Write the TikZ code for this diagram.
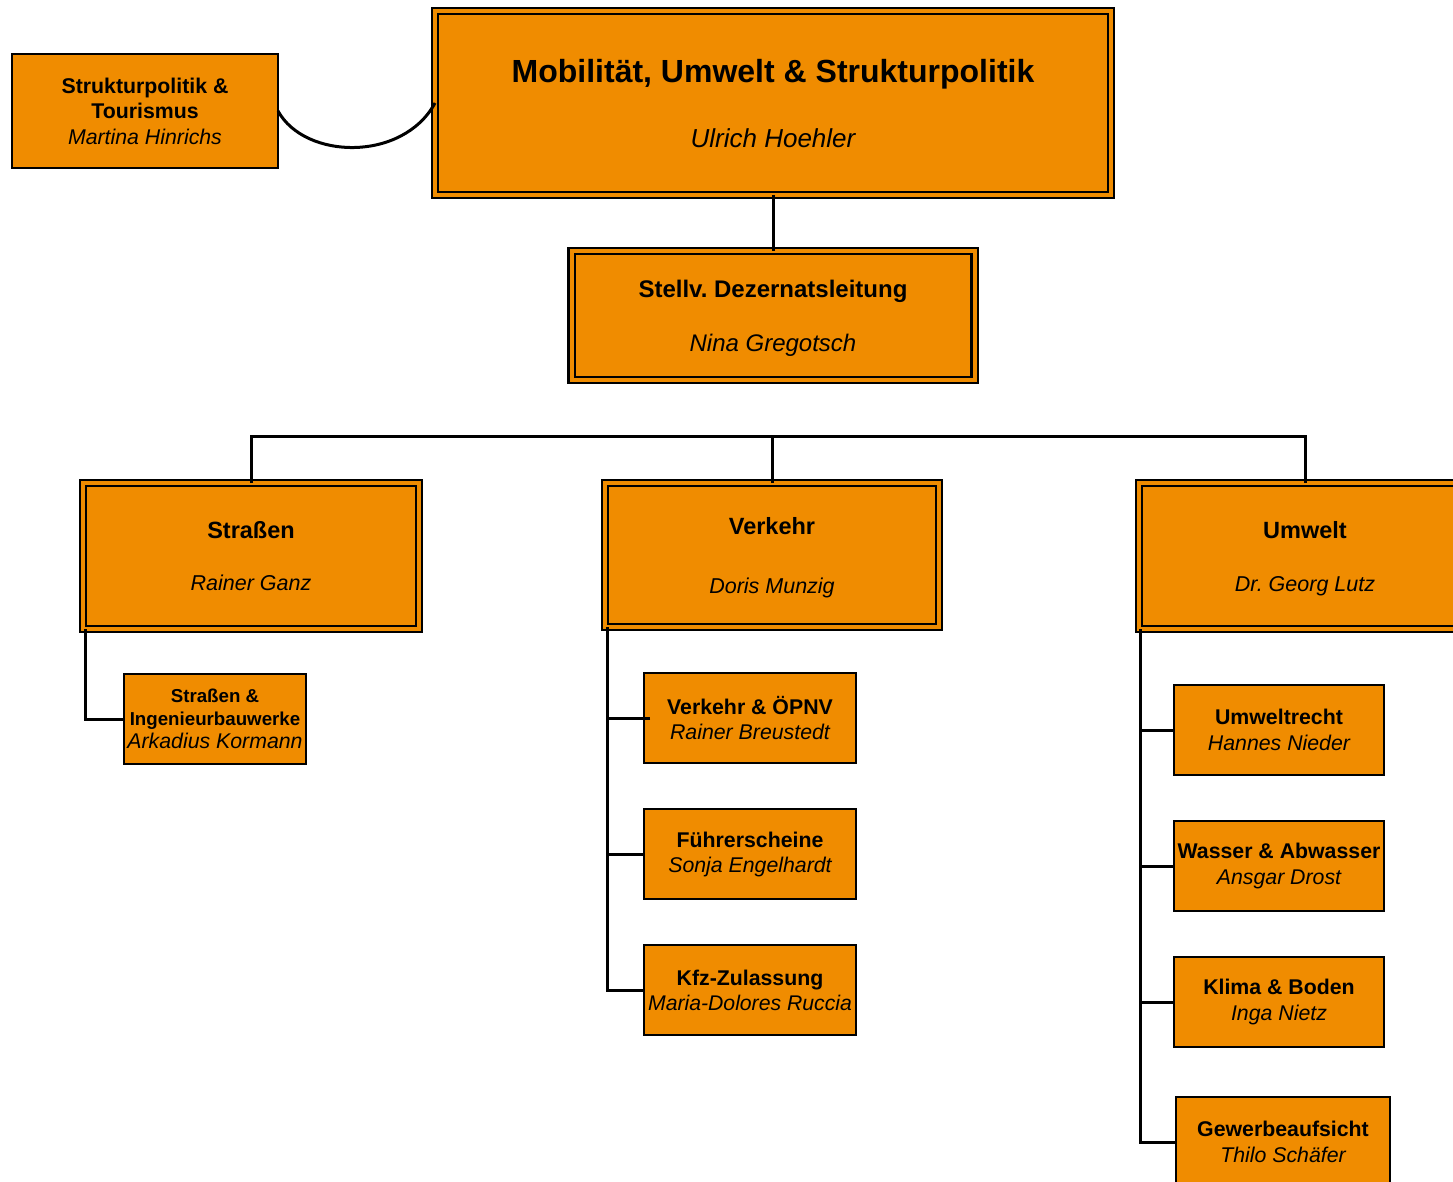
\documentclass[tikz,border=0pt]{standalone}
\usepackage{fontspec}
\setmainfont{Liberation Sans}
\frenchspacing
\definecolor{boxorange}{RGB}{240,140,0}
\newcommand\boxtitle[2]{{\fontsize{#1}{#1}\selectfont\bfseries #2}}
\newcommand\boxname[2]{{\fontsize{#1}{#1}\selectfont\itshape #2}}
\begin{document}
\begin{tikzpicture}[x=1pt,y=-1pt,
  bigbox/.style={draw, line width=2.2pt, double=boxorange, double distance=4pt,
    fill=boxorange, inner sep=0pt, outer sep=0pt, align=center, text depth=0pt},
  smallbox/.style={draw, line width=2.3pt, fill=boxorange, inner sep=0pt,
    outer sep=0pt, align=center, minimum height=90pt},
  conn/.style={line width=3pt}]
\useasboundingbox (0,0) rectangle (1453,1182);
\clip (0,0) rectangle (1453,1182);

% top level
\node[bigbox, minimum width=676pt, minimum height=184pt,
  font=\fontsize{26}{65}\selectfont] (main) at (773,103)
  {\boxtitle{32}{Mobilität, Umwelt \& Strukturpolitik}\\\boxname{26}{Ulrich Hoehler}};
\node[smallbox, minimum width=266pt, minimum height=114pt,
  font=\fontsize{21}{25.5}\selectfont] (strukt) at (145,111)
  {\boxtitle{21.3}{Strukturpolitik \&}\\\boxtitle{21.3}{Tourismus}\\\boxname{21.3}{Martina Hinrichs}};
\node[bigbox, minimum width=403pt, minimum height=129pt,
  font=\fontsize{24}{54}\selectfont] (stellv) at (773,315.5)
  {\boxtitle{24}{Stellv. Dezernatsleitung}\\\boxname{24}{Nina Gregotsch}};

% departments
\node[bigbox, minimum width=336pt, minimum height=146pt,
  font=\fontsize{22}{52}\selectfont] (strassen) at (251,556)
  {\boxtitle{23.5}{Straßen}\\\boxname{21.5}{Rainer Ganz}};
\node[bigbox, minimum width=334pt, minimum height=144pt,
  font=\fontsize{22}{59}\selectfont] (verkehr) at (772,555)
  {\boxtitle{23.5}{Verkehr}\\\boxname{21.5}{Doris Munzig}};
\node[bigbox, minimum width=332pt, minimum height=146pt,
  font=\fontsize{22}{53}\selectfont] (umwelt) at (1305,556)
  {\boxtitle{23.5}{Umwelt}\\\boxname{21.5}{Dr. Georg Lutz}};

% sub units
\node[smallbox, minimum width=182pt, font=\fontsize{21}{23}\selectfont] (si) at (215,719)
  {\boxtitle{18.7}{Straßen \&}\\\boxtitle{18.7}{Ingenieurbauwerke}\\\boxname{21.3}{Arkadius Kormann}};

\node[smallbox, minimum width=212pt, font=\fontsize{21}{25}\selectfont] (v1) at (750,718)
  {\boxtitle{21.3}{Verkehr \& ÖPNV}\\\boxname{21.3}{Rainer Breustedt}};
\node[smallbox, minimum width=212pt, font=\fontsize{21}{25}\selectfont] (v2) at (750,854)
  {\boxtitle{21.3}{Führerscheine}\\\boxname{21.3}{Sonja Engelhardt}};
\node[smallbox, minimum width=212pt, font=\fontsize{21}{25}\selectfont] (v3) at (750,990)
  {\boxtitle{21.3}{Kfz-Zulassung}\\\boxname{21.2}{Maria-Dolores Ruccia}};

\node[smallbox, minimum width=210pt, font=\fontsize{21}{26}\selectfont] (u1) at (1279,730)
  {\boxtitle{21.3}{Umweltrecht}\\\boxname{21.3}{Hannes Nieder}};
\node[smallbox, minimum width=210pt, font=\fontsize{21}{26}\selectfont] (u2) at (1279,866)
  {\boxtitle{21.3}{Wasser \& Abwasser}\\\boxname{21.3}{Ansgar Drost}};
\node[smallbox, minimum width=210pt, font=\fontsize{21}{26}\selectfont] (u3) at (1279,1002)
  {\boxtitle{21.3}{Klima \& Boden}\\\boxname{21.3}{Inga Nietz}};
\node[smallbox, minimum width=214pt, font=\fontsize{21}{26}\selectfont] (u4) at (1283,1142)
  {\boxtitle{21.3}{Gewerbeaufsicht}\\\boxname{21.3}{Thilo Schäfer}};

% connectors
\draw[conn] (strukt.east) .. controls (305,160) and (403,162) .. (main.west);
\draw[conn] (main.south) -- (stellv.north);
\coordinate (bus) at (773,436);
\draw[conn] (strassen.north) |- (bus) -| (umwelt.north);
\draw[conn] (verkehr.north) -- (verkehr.north |- bus);

\draw[conn] ([xshift=2pt]strassen.south west) |- (si.west);

\coordinate (vt) at ([xshift=2pt]verkehr.south west);
\draw[conn] (vt) |- (v3.west);
\draw[conn] ([xshift=6pt]v1.west) -- (v1.west -| vt);
\draw[conn] (v2.west) -- (v2.west -| vt);

\coordinate (ut) at ([xshift=1pt]umwelt.south west);
\draw[conn] (ut) |- (u4.west);
\draw[conn] (u1.west) -- (u1.west -| ut);
\draw[conn] (u2.west) -- (u2.west -| ut);
\draw[conn] (u3.west) -- (u3.west -| ut);
\end{tikzpicture}
\end{document}
